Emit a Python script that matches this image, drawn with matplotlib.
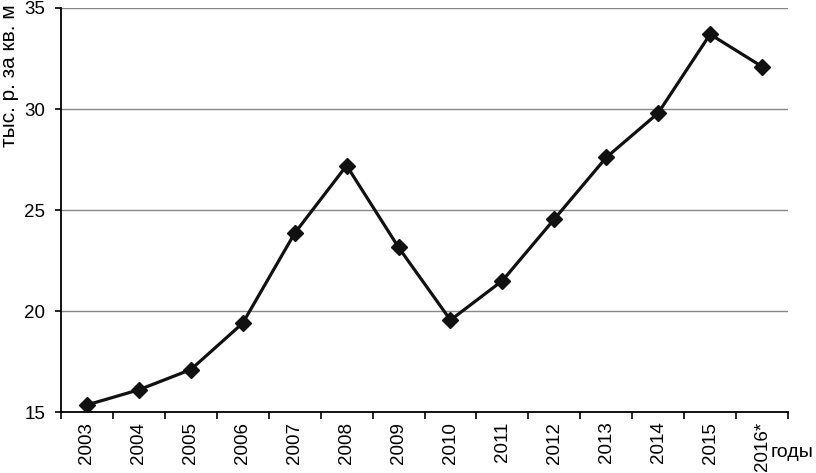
import matplotlib.pyplot as plt
import numpy as np

# Data
years = ["2003", "2004", "2005", "2006", "2007", "2008", "2009",
         "2010", "2011", "2012", "2013", "2014", "2015", "2016*"]
prices = [15.35, 16.1, 17.1, 19.4, 23.85, 27.2, 23.15,
          19.55, 21.5, 24.55, 27.6, 29.8, 33.7, 32.1]

plt.rcParams["font.family"] = ["Liberation Sans", "DejaVu Sans"]

fig = plt.figure(figsize=(8.16, 4.73), dpi=100)
ax = fig.add_axes([61 / 816, 61 / 473, 727 / 816, 404 / 473])

x = np.arange(len(years))
ax.plot(x, prices, color="#111111", lw=2.3, marker="D", ms=8, zorder=3)

ax.set_xlim(-0.5, len(years) - 0.5)
ax.set_ylim(15, 35)
ax.set_yticks([15, 20, 25, 30, 35])
ax.yaxis.grid(True, color="#888888", lw=1)
ax.set_axisbelow(True)

ax.set_xticks(x)
ax.set_xticklabels(years, rotation=90)
ax.set_xticks(np.arange(-0.5, len(years)), minor=True)
ax.tick_params(axis="x", which="major", length=0, labelsize=13.5, pad=7)
ax.tick_params(axis="x", which="minor", length=5, width=1.2, direction="out")
ax.tick_params(axis="y", length=4.5, width=1.2, labelsize=13.5, pad=7)

for s in ["top", "right"]:
    ax.spines[s].set_visible(False)
for s in ["left", "bottom"]:
    ax.spines[s].set_linewidth(1.3)
    ax.spines[s].set_color("black")

fig.text(0.0, 1 - 147 / 473, "тыс. р. за кв. м", rotation=90,
         ha="left", va="bottom", fontsize=15)
fig.text(771 / 816, 1 - 452 / 473, "годы", ha="left", va="center", fontsize=14)

fig.savefig("out.png", dpi=100)
